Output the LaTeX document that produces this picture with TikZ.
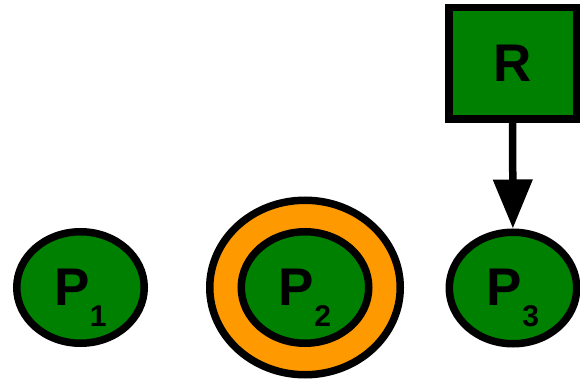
\documentclass[tikz,border=0pt]{standalone}
\usepackage{fontspec}
\setmainfont{Liberation Sans}
\usetikzlibrary{arrows.meta,shapes.geometric}
\definecolor{procgreen}{RGB}{0,128,0}
\definecolor{ringorange}{RGB}{255,153,0}
\newcommand{\procname}[1]{P\raisebox{-21pt}{\fontsize{30}{30}\selectfont #1}}
\begin{document}
\begin{tikzpicture}[x=1pt,y=-1pt,
  proc/.style={ellipse,draw,line width=7.5pt,fill=procgreen,minimum width=127.5pt,minimum height=111.5pt,inner sep=0pt,
    font=\fontsize{53}{60}\selectfont\bfseries,text height=35pt,text depth=0pt},
  ring/.style={ellipse,draw,line width=7.5pt,fill=ringorange,minimum width=190.5pt,minimum height=174.5pt,inner sep=0pt},
  res/.style={rectangle,draw,line width=7.5pt,fill=procgreen,minimum width=127.5pt,minimum height=111.5pt,inner sep=0pt,
    font=\fontsize{53}{60}\selectfont\bfseries},
  req/.style={line width=7.5pt,-{Triangle[length=49pt,width=38pt]}}]
  \useasboundingbox (0,0) rectangle (580,379);
  \node [proc] (P1) at (80.5,287.5) {\procname{1}};
  \node [ring] (ring2) at (305,287.5) {};
  \node [proc] (P2) at (305,287.5) {\procname{2}};
  \node [proc] (P3) at (513,288) {\procname{3}};
  \node [res] (R) at (512.5,63.5) {R};
  \draw [req] (R) -- (P3);
\end{tikzpicture}
\end{document}
